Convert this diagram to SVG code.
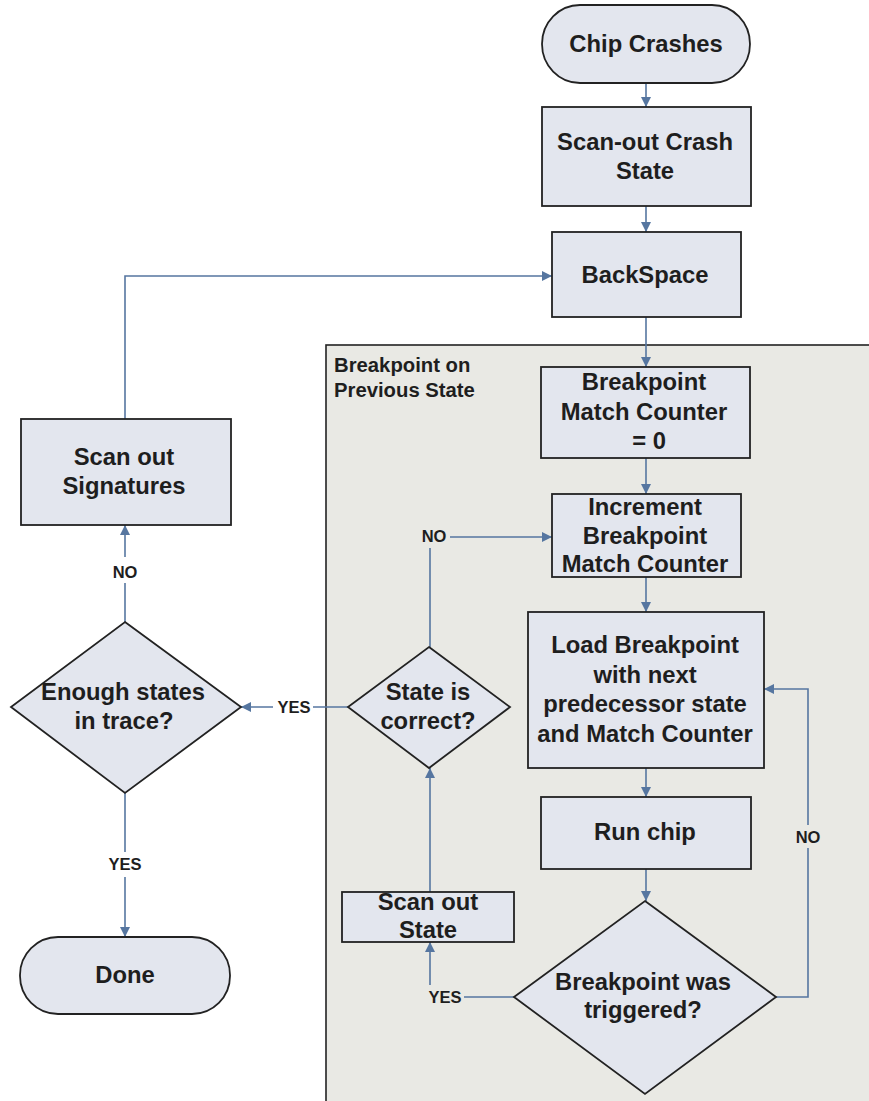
<svg xmlns="http://www.w3.org/2000/svg" width="869" height="1101" viewBox="0 0 869 1101">
  <defs>
    <marker id="arrow" viewBox="0 0 10 10" refX="10" refY="5" markerWidth="12" markerHeight="10" markerUnits="userSpaceOnUse" orient="auto">
      <path d="M0,0 L10,5 L0,10 z" fill="#5676a0"/>
    </marker>
    <style>
      .node { fill: #e3e6ee; stroke: #222; stroke-width: 1.8; }
      .lbl { font-family: "Liberation Sans", Arial, sans-serif; font-weight: bold; font-size: 23.8px; fill: #1e1e1e; text-anchor: middle; }
      .edge { fill: none; stroke: #5676a0; stroke-width: 1.6; }
      .elbl { font-family: "Liberation Sans", Arial, sans-serif; font-weight: bold; font-size: 16.5px; fill: #1e1e1e; text-anchor: middle; }
      .group-lbl { font-family: "Liberation Sans", Arial, sans-serif; font-weight: bold; font-size: 20.3px; fill: #1e1e1e; }
    </style>
  </defs>

  <rect width="869" height="1101" fill="#ffffff"/>

  <!-- Breakpoint region container -->
  <g id="breakpoint-region">
    <rect x="326" y="345" width="560" height="780" fill="#e9e9e4" stroke="#222" stroke-width="1.6"/>
    <text class="group-lbl" x="334" y="372">Breakpoint on</text>
    <text class="group-lbl" x="334" y="397">Previous State</text>
  </g>

  <!-- Connectors -->
  <g id="connectors">
    <line class="edge" x1="646" y1="83" x2="646" y2="107" marker-end="url(#arrow)"/>
    <line class="edge" x1="646" y1="206" x2="646" y2="232" marker-end="url(#arrow)"/>
    <line class="edge" x1="646" y1="317" x2="646" y2="367" marker-end="url(#arrow)"/>
    <line class="edge" x1="646" y1="458" x2="646" y2="494" marker-end="url(#arrow)"/>
    <line class="edge" x1="646" y1="577" x2="646" y2="612" marker-end="url(#arrow)"/>
    <line class="edge" x1="646" y1="768" x2="646" y2="797" marker-end="url(#arrow)"/>
    <line class="edge" x1="646" y1="869" x2="646" y2="901" marker-end="url(#arrow)"/>
    <!-- triggered: NO loops back to load -->
    <polyline class="edge" points="776,997 808,997 808,689 764,689" marker-end="url(#arrow)"/>
    <!-- triggered: YES to scan out state -->
    <polyline class="edge" points="514,997 430,997 430,942" marker-end="url(#arrow)"/>
    <line class="edge" x1="430" y1="892" x2="430" y2="768" marker-end="url(#arrow)"/>
    <!-- state correct: NO to increment -->
    <polyline class="edge" points="430,647 430,537 552,537" marker-end="url(#arrow)"/>
    <!-- state correct: YES to enough states -->
    <line class="edge" x1="348" y1="707" x2="241" y2="707" marker-end="url(#arrow)"/>
    <line class="edge" x1="125" y1="622" x2="125" y2="525" marker-end="url(#arrow)"/>
    <line class="edge" x1="125" y1="793" x2="125" y2="937" marker-end="url(#arrow)"/>
    <polyline class="edge" points="125,419 125,276 552,276" marker-end="url(#arrow)"/>

    <!-- edge labels -->
    <rect x="420" y="524" width="30" height="24" fill="#e9e9e4"/>
    <text class="elbl" x="434" y="542">NO</text>
    <rect x="793" y="825" width="30" height="23" fill="#e9e9e4"/>
    <text class="elbl" x="808" y="843">NO</text>
    <rect x="426" y="985" width="38" height="23" fill="#e9e9e4"/>
    <text class="elbl" x="445" y="1003">YES</text>
    <rect x="273" y="695" width="40" height="23" fill="#ffffff"/>
    <text class="elbl" x="294" y="713">YES</text>
    <rect x="108" y="557" width="34" height="26" fill="#ffffff"/>
    <text class="elbl" x="125" y="578">NO</text>
    <rect x="105" y="852" width="40" height="25" fill="#ffffff"/>
    <text class="elbl" x="125" y="870">YES</text>
  </g>

  <g id="chip-crashes">
    <rect class="node" x="542" y="5" width="208" height="78" rx="38" ry="39"/>
    <text class="lbl" x="646" y="52">Chip Crashes</text>
  </g>

  <g id="scan-out-crash-state">
    <rect class="node" x="542" y="107" width="209" height="99"/>
    <text class="lbl" x="645" y="150">Scan-out Crash</text>
    <text class="lbl" x="645" y="179">State</text>
  </g>

  <g id="backspace">
    <rect class="node" x="552" y="232" width="189" height="85"/>
    <text class="lbl" x="645" y="283">BackSpace</text>
  </g>

  <g id="match-counter-reset">
    <rect class="node" x="541" y="367" width="209" height="91"/>
    <text class="lbl" x="644" y="390">Breakpoint</text>
    <text class="lbl" x="644" y="420">Match Counter</text>
    <text class="lbl" x="649" y="449">= 0</text>
  </g>

  <g id="increment-counter">
    <rect class="node" x="552" y="494" width="189" height="83"/>
    <text class="lbl" x="645" y="515">Increment</text>
    <text class="lbl" x="645" y="544">Breakpoint</text>
    <text class="lbl" x="645" y="572">Match Counter</text>
  </g>

  <g id="load-breakpoint">
    <rect class="node" x="528" y="612" width="236" height="156"/>
    <text class="lbl" x="645" y="653">Load Breakpoint</text>
    <text class="lbl" x="645" y="683">with next</text>
    <text class="lbl" x="645" y="712">predecessor state</text>
    <text class="lbl" x="645" y="742">and Match Counter</text>
  </g>

  <g id="run-chip">
    <rect class="node" x="541" y="797" width="210" height="72"/>
    <text class="lbl" x="645" y="840">Run chip</text>
  </g>

  <g id="breakpoint-triggered">
    <polygon class="node" points="645,901 776,997 645,1094 514,997"/>
    <text class="lbl" x="643" y="990">Breakpoint was</text>
    <text class="lbl" x="643" y="1018">triggered?</text>
  </g>

  <g id="scan-out-state">
    <rect class="node" x="342" y="892" width="172" height="50"/>
    <text class="lbl" x="428" y="910">Scan out</text>
    <text class="lbl" x="428" y="938">State</text>
  </g>

  <g id="state-correct">
    <polygon class="node" points="429,647 510,707 429,768 348,707"/>
    <text class="lbl" x="428" y="700">State is</text>
    <text class="lbl" x="428" y="729">correct?</text>
  </g>

  <g id="enough-states">
    <polygon class="node" points="125,622 241,707 125,793 11,707"/>
    <text class="lbl" x="123" y="700">Enough states</text>
    <text class="lbl" x="124" y="729">in trace?</text>
  </g>

  <g id="scan-out-signatures">
    <rect class="node" x="21" y="419" width="210" height="106"/>
    <text class="lbl" x="124" y="465">Scan out</text>
    <text class="lbl" x="124" y="494">Signatures</text>
  </g>

  <g id="done">
    <rect class="node" x="20" y="937" width="210" height="77" rx="38" ry="38"/>
    <text class="lbl" x="125" y="983">Done</text>
  </g>
</svg>
